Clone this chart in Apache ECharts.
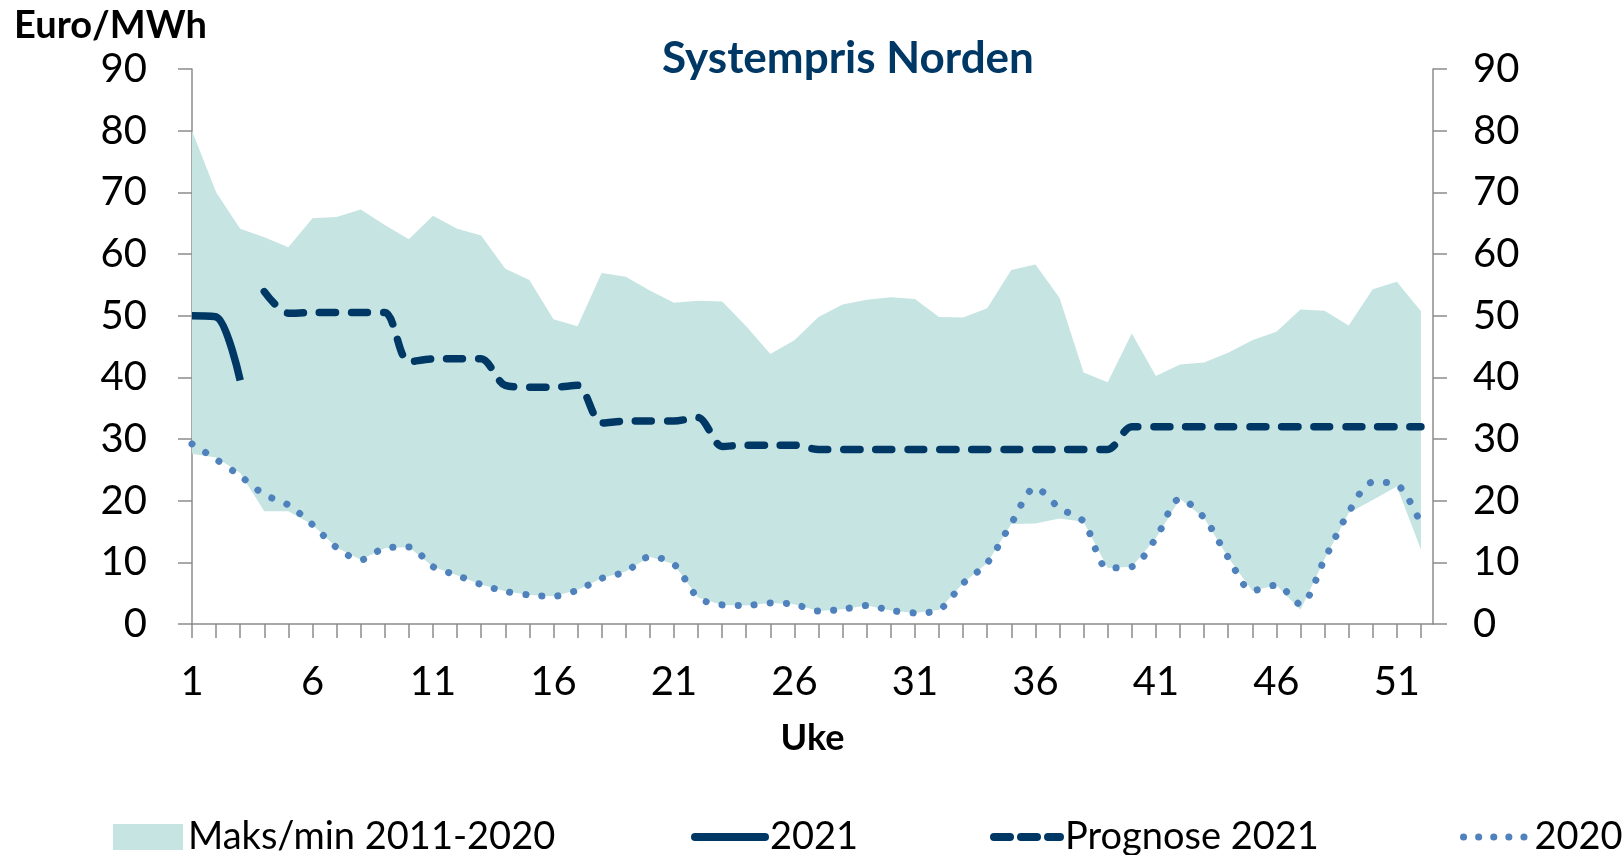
<!DOCTYPE html>
<html>
<head>
<meta charset="utf-8">
<title>Systempris Norden</title>
<script src="https://cdn.jsdelivr.net/npm/echarts@6/dist/echarts.min.js"></script>
<style>
    html, body { margin: 0; padding: 0; background: #fff; }
    #price_chart { width: 1624px; height: 855px; }
</style>
</head>
<body>
<div id="price_chart"></div>
<script>

// Chart data
// ------------------------------

var weeks = [1,2,3,4,5,6,7,8,9,10,11,12,13,14,15,16,17,18,19,20,21,22,23,24,25,26,
             27,28,29,30,31,32,33,34,35,36,37,38,39,40,41,42,43,44,45,46,47,48,49,50,51,52];
var weekLabels = [1, 6, 11, 16, 21, 26, 31, 36, 41, 46, 51];

// Maks/min 2011-2020
var maks = [80.0,70.0,64.1,62.7,61.1,65.8,66.0,67.2,64.7,62.4,66.2,64.1,63.0,57.6,55.8,49.4,48.3,56.9,56.3,54.1,52.1,52.4,52.3,48.3,43.8,46.0,
            49.8,51.8,52.6,53.0,52.7,49.8,49.7,51.2,57.4,58.3,52.9,40.8,39.2,47.1,40.2,42.1,42.4,44.0,46.0,47.4,51.0,50.8,48.4,54.3,55.5,50.7];
var min = [27.6,27.0,24.5,18.3,18.3,16.1,12.4,10.4,12.3,12.5,9.3,7.9,6.4,5.3,4.7,4.5,5.5,7.4,8.5,10.9,9.7,4.3,3.1,3.0,3.4,3.2,
           2.1,2.4,3.0,2.2,1.8,2.3,6.6,9.9,16.2,16.3,17.1,16.6,9.1,9.3,13.9,20.3,17.2,10.8,5.4,6.3,2.3,10.5,18.0,20.1,22.3,12.1];

// 2021 so far
var pris2021 = [50.0, 49.8, 39.5];

// Prognose 2021 (weeks 4-52)
var prognose2021 = [null,null,null,53.9,50.4,50.5,50.5,50.5,50.5,42.5,43.0,43.0,43.0,38.7,38.4,38.4,38.7,32.6,32.9,32.9,32.9,33.5,28.8,29.0,29.0,29.0,
                    28.3,28.3,28.3,28.3,28.3,28.3,28.3,28.3,28.3,28.3,28.3,28.3,28.3,32.0,32.0,32.0,32.0,32.0,32.0,32.0,32.0,32.0,32.0,32.0,32.0,32.0];

// 2020
var pris2020 = [29.2,26.7,24.0,21.0,19.3,16.1,12.4,10.4,12.3,12.5,9.3,7.9,6.4,5.3,4.7,4.5,5.5,7.4,8.5,10.9,9.7,4.3,3.1,3.0,3.4,3.2,
                2.1,2.4,3.0,2.2,1.8,2.3,6.6,9.9,16.3,22.1,18.8,16.6,9.1,9.3,13.9,20.3,17.2,10.8,5.4,6.3,3.2,10.5,18.1,23.0,22.6,16.2];


// Setup module
// ------------------------------

var EchartsSystemprisNorden = function() {

    // pair week numbers with values
    var pairs = function(values) {
        return values.map(function(v, i) { return [weeks[i], v]; });
    };

    var _systemprisChart = function() {
        if (typeof echarts == 'undefined') {
            console.warn('Warning - echarts.min.js is not loaded.');
            return;
        }

        var chart_element = document.getElementById('price_chart');
        if (!chart_element) return;

        var chart = echarts.init(chart_element);

        var fontFamily = 'Lato, "Open Sans", sans-serif';
        var axisColor = '#8c8c8c';
        var bandColor = '#c5e4e2';
        var darkBlue = '#003865';
        var lightBlue = '#4f81bd';

        var yAxisBase = {
            type: 'value',
            min: 0,
            max: 90,
            interval: 10,
            axisLine: { show: true, lineStyle: { color: axisColor, width: 1.5 } },
            axisTick: { show: true, length: 14, lineStyle: { color: axisColor, width: 1.5 } },
            axisLabel: { color: '#000', fontSize: 40, fontFamily: fontFamily, margin: 45 },
            splitLine: { show: false }
        };

        var legendBase = {
            top: 813,
            itemWidth: 70,
            itemHeight: 26,
            itemGap: 0,
            selectedMode: false,
            textStyle: { color: '#000', fontSize: 38, fontFamily: fontFamily }
        };

        // Band polygon between maks and min, drawn once through the axis scales
        var renderBand = function(params, api) {
            if (params.dataIndex !== 0) return null;
            var points = [];
            for (var i = 0; i < weeks.length; i++) {
                points.push(api.coord([weeks[i], maks[i]]));
            }
            for (var j = weeks.length - 1; j >= 0; j--) {
                points.push(api.coord([weeks[j], min[j]]));
            }
            return {
                type: 'polygon',
                shape: { points: points },
                style: { fill: bandColor }
            };
        };

        chart.setOption({

            animation: false,

            textStyle: { fontFamily: fontFamily },

            grid: {
                left: 192,
                right: 191,
                top: 69,
                bottom: 231
            },

            // Titles
            graphic: [
                {
                    type: 'text',
                    left: 14,
                    top: 7,
                    style: { text: 'Euro/MWh', fill: '#000', font: 'bold 38px ' + fontFamily }
                },
                {
                    type: 'text',
                    x: 848,
                    y: 59,
                    style: {
                        text: 'Systempris Norden',
                        fill: darkBlue,
                        font: 'bold 44px ' + fontFamily,
                        align: 'center',
                        verticalAlign: 'middle'
                    }
                }
            ],

            legend: [
                Object.assign({ left: 108, data: [{ name: 'Maks/min 2011-2020', icon: 'rect' }] }, legendBase),
                Object.assign({ left: 686, data: [{
                    name: '2021',
                    itemStyle: { opacity: 0 },
                    lineStyle: { color: darkBlue, width: 8, type: 'solid', cap: 'round' }
                }] }, legendBase),
                Object.assign({ left: 981, data: [{
                    name: 'Prognose 2021',
                    itemStyle: { opacity: 0 },
                    lineStyle: { color: darkBlue, width: 8, type: [16, 11], cap: 'round', dashOffset: -4 }
                }] }, legendBase),
                Object.assign({ left: 1451, data: [{
                    name: '2020',
                    itemStyle: { opacity: 0 },
                    lineStyle: { color: lightBlue, width: 7, type: [0.1, 15], cap: 'round', dashOffset: -4 }
                }] }, legendBase)
            ],

            // Horizontal axis
            xAxis: {
                type: 'value',
                min: 1,
                max: 52.5,
                name: 'Uke',
                nameLocation: 'middle',
                nameGap: 96,
                nameTextStyle: { color: '#000', fontSize: 36, fontWeight: 'bold', fontFamily: fontFamily },
                axisLine: { show: true, lineStyle: { color: axisColor, width: 1.5 } },
                axisTick: { show: true, length: 14, customValues: weeks, lineStyle: { color: axisColor, width: 1.5 } },
                axisLabel: { color: '#000', fontSize: 40, fontFamily: fontFamily, margin: 38, customValues: weekLabels },
                splitLine: { show: false }
            },

            // Vertical axes
            yAxis: [
                Object.assign({ position: 'left' }, yAxisBase),
                Object.assign({ position: 'right' }, yAxisBase, { axisLabel: { color: '#000', fontSize: 40, fontFamily: fontFamily, margin: 40 } })
            ],

            series: [
                {
                    name: 'Maks/min 2011-2020',
                    type: 'custom',
                    silent: true,
                    itemStyle: { color: bandColor },
                    renderItem: renderBand,
                    encode: { x: 0, y: 1 },
                    data: pairs(maks)
                },
                {
                    name: '2020',
                    type: 'line',
                    symbol: 'none',
                    smooth: 0.3,
                    itemStyle: { color: lightBlue },
                    lineStyle: { color: lightBlue, width: 7, type: [0.1, 16], cap: 'round' },
                    data: pairs(pris2020)
                },
                {
                    name: 'Prognose 2021',
                    type: 'line',
                    symbol: 'none',
                    smooth: 0.3,
                    connectNulls: false,
                    itemStyle: { color: darkBlue },
                    lineStyle: { color: darkBlue, width: 7.5, type: [16, 16], cap: 'round' },
                    data: pairs(prognose2021)
                },
                {
                    name: '2021',
                    type: 'line',
                    symbol: 'none',
                    smooth: 0.3,
                    itemStyle: { color: darkBlue },
                    lineStyle: { color: darkBlue, width: 7.5 },
                    data: pairs(pris2021)
                }
            ]
        });

        window.addEventListener('resize', function() {
            chart.resize();
        });
    };

    return {
        init: function() {
            _systemprisChart();
        }
    }
}();


// Initialize module
// ------------------------------

document.addEventListener('DOMContentLoaded', function() {
    EchartsSystemprisNorden.init();
});
</script>
</body>
</html>
